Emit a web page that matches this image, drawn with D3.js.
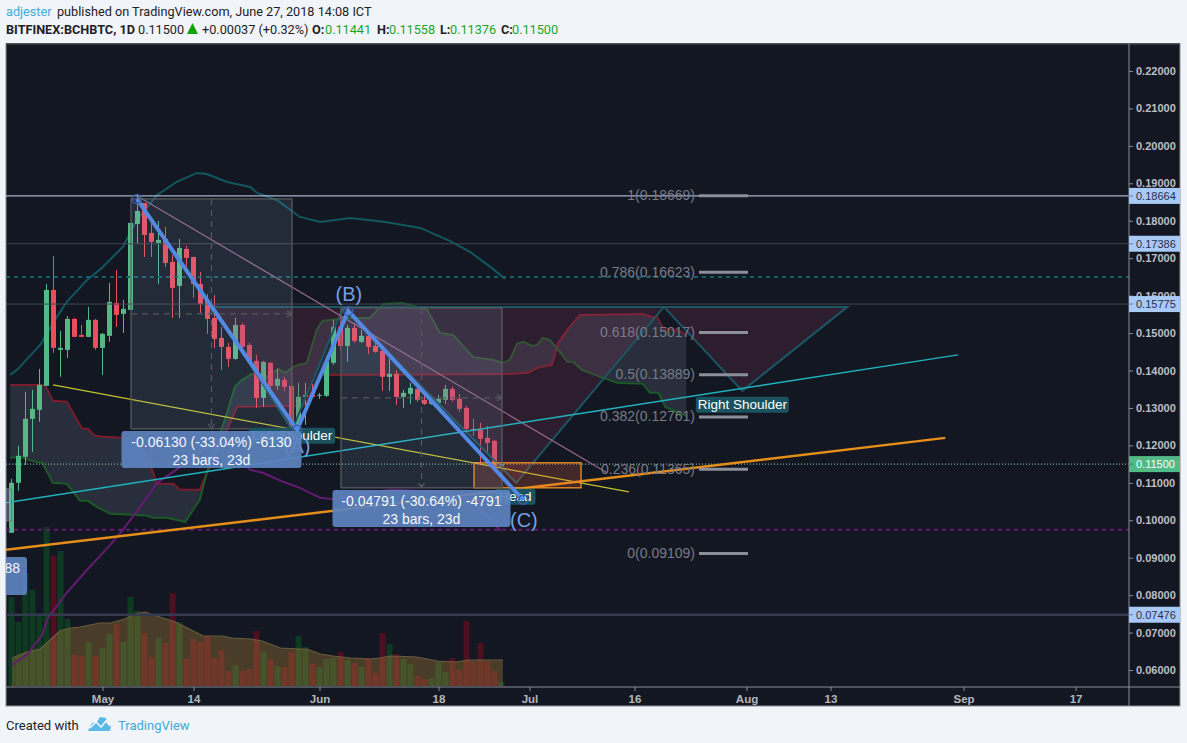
<!DOCTYPE html>
<html><head><meta charset="utf-8">
<script src="https://cdn.jsdelivr.net/npm/d3@7/dist/d3.min.js"></script>
<style>html,body{margin:0;padding:0;background:#f1f4f8;overflow:hidden}svg{display:block}</style>
</head><body><svg id="c" width="1187" height="743"></svg>
<script>
// days are counted from May 1 2018
const firstDay=-13;
const opens=[.09665,.11,.11694,.12709,.12949,.1359,.16153,.14551,.14551,.15379,.14951,.14898,.15352,.14604,.14925,.15806,.15512,.15619,.17915,.18476,.17675,.17408,.17515,.16901,.1626,.17248,.17034,.16313,.15886,.15405,.14871,.14631,.14311,.15218,.14684,.14257,.13269,.14204,.1359,.1375,.1359,.12415,.13296,.13349,.13323,.13323,.14204,.15165,.14658,.15138,.14765,.14925,.14658,.14524,.1383,.1391,.13296,.13376,.1351,.13216,.13109,.13136,.13216,.1351,.13243,.13002,.12442,.12415,.12201,.12121,.11441];
const highs=[.11107,.11988,.1343,.13483,.14044,.16313,.17061,.15058,.15459,.15405,.15218,.15699,.15379,.15005,.1634,.16687,.15886,.17942,.18716,.18476,.18022,.17995,.17835,.17087,.17515,.17328,.17034,.16634,.16046,.16019,.15165,.14738,.15405,.15272,.14738,.14417,.14257,.14231,.14044,.1383,.1359,.1367,.1367,.13643,.13403,.14391,.15352,.15592,.15218,.15272,.15085,.15005,.14738,.14551,.14311,.14017,.13483,.1367,.1359,.13403,.13349,.13349,.13616,.13563,.13376,.13056,.12709,.12602,.12522,.12148,.11558];
const lows=[.09665,.10786,.1148,.11828,.12629,.1359,.14471,.1383,.14337,.14898,.14898,.14898,.14551,.13883,.14765,.15165,.15005,.15619,.17381,.17034,.17034,.16313,.16767,.15405,.15405,.16767,.15939,.15539,.14978,.14604,.14017,.14097,.14284,.14417,.1415,.13002,.13029,.13483,.13483,.13456,.12415,.12362,.12548,.13269,.13243,.13296,.1415,.14551,.14231,.14738,.14738,.14444,.14471,.13456,.13456,.13082,.13002,.13109,.13163,.13082,.13082,.13082,.13109,.13163,.12896,.12335,.12255,.1148,.11828,.11441,.11376];
const closes=[.11,.11721,.12709,.12976,.13616,.16153,.14604,.14604,.15379,.14898,.14898,.15352,.14604,.14978,.15833,.15485,.15646,.17942,.18262,.17621,.17435,.17488,.16874,.16206,.17274,.17007,.16313,.15779,.15379,.14845,.14631,.14311,.15218,.14631,.14231,.13269,.14231,.1359,.13777,.13563,.12468,.13296,.13349,.13296,.13349,.14231,.15165,.14658,.15138,.14791,.14925,.14631,.14498,.1383,.1391,.13296,.13403,.13536,.13216,.13109,.13216,.13243,.1351,.13216,.12976,.12442,.12388,.12175,.12068,.11441,.115];
const volumes=[8870,6400,11300,9600,7100,15900,13000,13500,6700,3100,3000,4400,3000,3800,5200,6200,4400,8900,7500,5300,2900,4800,4300,9300,6400,2700,4700,4400,5000,2800,3600,1500,2100,1500,1700,5500,3400,2700,2000,1900,3400,5000,3900,2200,1900,2700,2800,3400,2600,2300,1900,2800,1300,5300,4200,3200,2700,2200,1000,700,800,2400,1400,2800,1600,6500,2400,4300,2400,1500,400];
const volumeMA=[[-12.9,2800],[-10.8,3400],[-8.9,3700],[-7.5,4600],[-6.1,5500],[-4.6,5800],[-3.2,5900],[-1.8,6100],[-.4,6300],[1.1,6300],[3.2,6700],[4.6,7200],[6.1,7400],[8.2,6900],[10.4,6400],[12.1,5800],[14.4,5000],[17.1,5000],[18.5,4800],[21.1,4700],[22.8,4500],[25.4,3800],[28.2,3700],[29.2,3700],[31.1,3200],[32.9,3000],[35.4,2800],[38.2,2700],[39.6,2800],[41.1,3000],[44.9,2900],[47.8,2500],[50.6,2400],[52.1,2600],[57.2,2600]];
const upperBand=[[-13.2,.13883],[-12.2,.14017],[-8.9,.14684],[-6.8,.15352],[-5.1,.15833],[-2.2,.1642],[-.1,.1674],[2.9,.17301],[4.9,.18022],[7.8,.18689],[10.6,.19037],[13.5,.19277],[14.9,.1925],[17.8,.19037],[21.1,.18903],[22.1,.18743],[24.9,.18556],[28.2,.18102],[31.1,.17969],[35.4,.18075],[40.4,.17969],[45.4,.17808],[49.6,.17461],[52.5,.17168],[55.4,.16767],[57.5,.16447]];
const lowerBand=[[-12.9,.0614],[-10.8,.06407],[-8.6,.06941],[-7.8,.07395],[-5.1,.08063],[-2.2,.08677],[1.1,.09344],[2.9,.09745],[5.4,.10359],[7.8,.11],[10.1,.11294],[12.5,.11614],[15.8,.12095],[17.9,.12014],[21.1,.11347],[22.9,.11267],[25.8,.11027],[28.2,.10866],[31.1,.10599],[33.5,.10546],[35.8,.10706],[41.5,.10813],[48.2,.1076],[52.5,.10546],[55.4,.10012],[56.9,.09718]];
const spanB=[[-13.2,.13616],[-8.2,.13616],[-7.1,.13189],[-5.1,.13163],[-2.9,.12442],[-2.1,.12442],[-1.1,.12255],[.1,.12228],[2.8,.12201],[4.2,.12201],[6.4,.11694],[7.8,.10973],[10.1,.10973],[11.1,.10813],[13.9,.10813],[14.9,.11267],[17.8,.12415],[19.2,.13029],[26.8,.13056],[28.6,.13029],[31.1,.13883],[58.6,.1391],[60.8,.13937],[62.1,.14071],[64.2,.1415],[65.1,.14738],[66.4,.15085],[68.2,.15485],[77.2,.15512],[78.5,.15432],[79.2,.15432],[80.1,.15138],[81.5,.15085],[82.5,.15058],[83.4,.14951]];
const spanA=[[-13.2,.11667],[-11.8,.11694],[-9.6,.11561],[-8.6,.11534],[-7.1,.11],[-5.1,.10973],[-3.2,.10519],[-2.1,.10519],[-.8,.10359],[1.1,.10172],[4.4,.10146],[6.4,.10119],[7.2,.10065],[9.2,.10065],[11.8,.09958],[13.9,.10546],[14.9,.11267],[17.8,.12869],[18.9,.13563],[19.9,.1375],[21.4,.1391],[23.2,.13803],[25.1,.14044],[26.1,.13937],[27.5,.14124],[29.2,.14204],[30.6,.15085],[31.4,.15325],[34.9,.15405],[38.2,.15405],[40.1,.15779],[42.9,.15806],[46.4,.15619],[48.2,.15005],[50.1,.14951],[52.9,.14364],[55.8,.14284],[57.2,.14204],[58.2,.14284],[59.2,.14711],[60.1,.14765],[61.4,.14658],[62.1,.14684],[62.9,.14871],[63.9,.14818],[65.1,.14551],[66.4,.14231],[67.2,.14231],[68.5,.14017],[71.1,.1383],[73.5,.1367],[77.2,.13643],[78.2,.13403],[79.4,.13403],[80.4,.13029],[83.4,.12789]];
const yTicks=[.06,.07,.08,.09,.10,.11,.12,.13,.14,.15,.16,.17,.18,.19,.20,.21,.22];
const xTicks=[0,13,31,48,61,76,92,104,123,139];
const xTickLabels=["May","14","Jun","18","Jul","16","Aug","13","Sep","17"];
const priceLabels=[.18664,.17386,.15775,.11500,.07476];
const fibPrices=[.18669,.16623,.15017,.13889,.12761,.11365,.09109];
const fibTexts=["1(0.18669)","0.786(0.16623)","0.618(0.15017)","0.5(0.13889)","0.382(0.12761)","0.236(0.11365)","0(0.09109)"];
const hsPoints=[[15.8,.15699],[27.1,.12415],[34.4,.15699],[59.1,.11],[80.2,.15699],[91.4,.13456],[106.4,.15699]];
const abc=[[4.9,.18583],[27.8,.12415],[35.1,.15592],[60.1,.10546]];
const measure1=[4.07,27.07,.18583,.12442], measure2=[34.07,57.07,.15672,.10866];
const m1Texts=["-0.06130 (-33.04%) -6130","23 bars, 23d"], m2Texts=["-0.04791 (-30.64%) -4791","23 bars, 23d"];
const yellowLine=[[-7.07,.13616],[75.2,.1076]], cyanLine=[[-13.79,.10466],[122.2,.14417]];
const orangeLine=[[-13.79,.09211],[120.4,.12201]], pinkLine=[[5.2,.18636],[72.07,.11267]];
const orangeBox=[53.07,68.36,.11534,.10866];

const FONT='"Liberation Sans",Arial,sans-serif', UI='Roboto,sans-serif';
const L=6,R=1129,RR=1180,T=44,B=687,BB=706;
const x=d3.scaleLinear().domain([-13.786,146.64]).range([L,R]);
const y=d3.scaleLinear().domain([.22,.06]).range([71,670]);
const yv=d3.scaleLinear().domain([0,20000]).range([686,486]);
const svg=d3.select("#c");
svg.append("defs").append("clipPath").attr("id","pane").append("rect").attr("x",L).attr("y",T).attr("width",R-L).attr("height",B-T);
svg.append("rect").attr("x",L).attr("y",T).attr("width",RR-L).attr("height",BB-T).attr("fill","#131722").attr("stroke","#8a8e98");
svg.append("line").attr("x1",L).attr("x2",RR).attr("y1",T).attr("y2",T).attr("stroke","#2a2e39").attr("stroke-width",1.5);
const g=svg.append("g").attr("clip-path","url(#pane)");
const days=opens.map((_,i)=>firstDay+i);
const GREEN="#53b987",RED="#eb4d5c";
const lineP=d3.line().x(d=>x(d[0])).y(d=>y(d[1]));
// volume
g.selectAll(".v").data(volumes).join("rect").attr("x",(d,i)=>x(days[i])-3).attr("width",6)
 .attr("y",d=>yv(d)).attr("height",d=>yv(0)-yv(d)).attr("fill",(d,i)=>closes[i]>=opens[i]?"#0e3a22":"#4e0f20");
g.append("path").datum(volumeMA).attr("d",d3.area().x(d=>x(d[0])).y0(yv(0)).y1(d=>yv(d[1]))).attr("fill","rgba(200,150,60,.3)");
g.append("path").datum(volumeMA).attr("d",d3.line().x(d=>x(d[0])).y(d=>yv(d[1]))).attr("fill","none").attr("stroke","#6b5c3f").attr("stroke-width",1.2);
// cloud
const cloud=spanA.concat(spanB.slice().reverse());
g.append("path").attr("d",lineP(cloud)+"Z").attr("fill","rgba(150,160,185,.17)").attr("fill-rule","evenodd");
g.append("path").attr("d",lineP(spanB)).attr("fill","none").attr("stroke","#7a1c2c").attr("stroke-width",2);
g.append("path").attr("d",lineP(spanA)).attr("fill","none").attr("stroke","#1b5a27").attr("stroke-width",2);
g.append("path").attr("d",lineP(upperBand)).attr("fill","none").attr("stroke","#12575f").attr("stroke-width",2);
g.append("path").attr("d",lineP(lowerBand)).attr("fill","none").attr("stroke","#651b72").attr("stroke-width",2);
// candles
const cg=g.selectAll(".k").data(days).join("g");
cg.append("line").attr("x1",d=>x(d)).attr("x2",d=>x(d)).attr("y1",(d,i)=>y(highs[i])).attr("y2",(d,i)=>y(lows[i])).attr("stroke",(d,i)=>closes[i]>=opens[i]?GREEN:RED);
cg.append("rect").attr("x",d=>x(d)-2.5).attr("width",5).attr("y",(d,i)=>y(Math.max(opens[i],closes[i])))
 .attr("height",(d,i)=>Math.max(1,Math.abs(y(opens[i])-y(closes[i])))).attr("fill",(d,i)=>closes[i]>=opens[i]?GREEN:RED);
// horizontal levels
function hline(p,c,w,dash){const l=g.append("line").attr("x1",L).attr("x2",R).attr("y1",y(p)).attr("y2",y(p)).attr("stroke",c).attr("stroke-width",w);if(dash)l.attr("stroke-dasharray",dash);}
hline(.18664,"#c9d6f2",1);hline(.17386,"#434753",1);hline(.15775,"#434753",1);hline(.07476,"#343b4e",2.5);
hline(.16496,"#14606a",2,"4 4");hline(.09744,"#651b72",2,"4 4");hline(.115,"#8fd4b0",1,"1 2");
// H&S
const hsClosed=hsPoints.concat([hsPoints[0]]);
g.append("path").attr("d",lineP(hsClosed)+"Z").attr("fill","rgba(150,60,100,.2)");
g.append("path").attr("d",lineP(hsClosed)).attr("fill","none").attr("stroke","#1c5663").attr("stroke-width",2);
// simple drawn lines
g.append("path").attr("d",lineP(yellowLine)).attr("stroke","#c3c22c").attr("fill","none").attr("stroke-width",1.2);
g.append("path").attr("d",lineP(pinkLine)).attr("stroke","#94688c").attr("fill","none").attr("stroke-width",1.2);
g.append("path").attr("d",lineP(cyanLine)).attr("stroke","#1fb3bd").attr("fill","none").attr("stroke-width",1.4);
g.append("path").attr("d",lineP(orangeLine)).attr("stroke","#e58e1a").attr("fill","none").attr("stroke-width",2.4);
g.append("rect").attr("x",x(orangeBox[0])).attr("y",y(orangeBox[2])).attr("width",x(orangeBox[1])-x(orangeBox[0])).attr("height",y(orangeBox[3])-y(orangeBox[2])).attr("fill","rgba(240,105,70,.22)").attr("stroke","#f5921f").attr("stroke-width",1.3);
// fib
fibPrices.forEach((p,i)=>{
 g.append("line").attr("x1",699).attr("x2",748).attr("y1",y(p)).attr("y2",y(p)).attr("stroke","#8b8f9b").attr("stroke-width",3);
 g.append("text").attr("x",695).attr("y",y(p)+4.5).attr("text-anchor","end").attr("font-family",FONT).attr("font-size",14).attr("fill","#787b86").text(fibTexts[i]);
});
// measure boxes
function measure(m){
 const x0=x(m[0]),x1=x(m[1]),y0=y(m[2]),y1=y(m[3]),cx=(x0+x1)/2,cy=(y0+y1)/2;
 g.append("rect").attr("x",x0).attr("y",y0).attr("width",x1-x0).attr("height",y1-y0).attr("fill","rgba(150,170,210,.13)").attr("stroke","#5a5c61").attr("stroke-width",1.2);
 g.append("line").attr("x1",cx).attr("x2",cx).attr("y1",y0).attr("y2",y1).attr("stroke","#55585f").attr("stroke-dasharray","6 5").attr("stroke-width",1.2);
 g.append("line").attr("x1",x0).attr("x2",x1).attr("y1",cy).attr("y2",cy).attr("stroke","#55585f").attr("stroke-dasharray","6 5").attr("stroke-width",1.2);
 g.append("path").attr("d",`M${cx-3},${y1-5}L${cx},${y1}L${cx+3},${y1-5}M${x1-5},${cy-3}L${x1},${cy}L${x1-5},${cy+3}`).attr("fill","none").attr("stroke","#55585f").attr("stroke-width",1.2);
}
measure(measure1);measure(measure2);
// third, mostly off-screen measure
g.append("rect").attr("x",x(-15)).attr("y",y(.10839)).attr("width",x(-13)-x(-15)).attr("height",y(.09985)-y(.10839)).attr("fill","rgba(150,170,210,.4)").attr("stroke","#777");
// labels with pattern names
function tag(t,dx,cy,w){const cxp=x(dx),cyp=y(cy);
 g.append("rect").attr("x",cxp-w/2).attr("y",cyp-8).attr("width",w).attr("height",16).attr("rx",3).attr("fill","#1a5260");
 g.append("text").attr("x",cxp).attr("y",cyp+4.5).attr("text-anchor","middle").attr("font-family",FONT).attr("font-size",13.5).attr("fill","#fff").text(t);}
tag("Left Shoulder",27.1,.12255,86);tag("Head",59,.10626,40);tag("Right Shoulder",91.4,.13083,93);
// abc path
g.append("path").attr("d",lineP(abc)).attr("fill","none").attr("stroke","#5489e3").attr("stroke-width",4);
abc.forEach(p=>g.append("circle").attr("cx",x(p[0])).attr("cy",y(p[1])).attr("r",4.5).attr("fill","none").attr("stroke","#3a5fa5").attr("stroke-width",1.5));
[["(A)",27.8,.11975],["(B)",35.2,.1604],["(C)",60.2,.1],].forEach(a=>{
 g.append("text").attr("x",x(a[1])).attr("y",y(a[2])+7).attr("text-anchor","middle").attr("font-family",FONT).attr("font-size",20).attr("fill","#739fe4").text(a[0]);});
// tooltips
function tip(cx,y0,w,texts){const X=x(cx);
 g.append("rect").attr("x",X-w/2).attr("y",y0).attr("width",w).attr("height",37).attr("rx",3).attr("fill","rgba(92,130,190,.93)");
 texts.forEach((t,i)=>g.append("text").attr("x",X).attr("y",y0+16+i*18).attr("text-anchor","middle").attr("font-family",FONT).attr("font-size",14).attr("fill","#f4f7fc").text(t));}
tip((measure1[0]+measure1[1])/2,431,180,m1Texts);
tip((measure2[0]+measure2[1])/2,490,178,m2Texts);
g.append("rect").attr("x",-20).attr("y",557).attr("width",47).attr("height",38).attr("rx",3).attr("fill","rgba(92,130,190,.93)");
g.append("text").attr("x",20).attr("y",573).attr("text-anchor","end").attr("font-family",FONT).attr("font-size",14).attr("fill","#f4f7fc").text("88");
// axes
const ax=svg.append("g").attr("transform",`translate(0,${B})`).call(d3.axisBottom(x).tickValues(xTicks).tickSize(4).tickFormat((d,i)=>xTickLabels[i]));
ax.select(".domain").attr("stroke","#8a8e98").attr("d",`M${L},0H${RR}`);
ax.selectAll("line").attr("stroke","#8a8e98");
ax.selectAll("text").attr("dy",0).attr("y",16).attr("font-family",FONT).attr("font-size",11.5).attr("font-weight","bold").attr("fill","#b5b7bd");
const ay=svg.append("g").attr("transform",`translate(${R},0)`).call(d3.axisRight(y).tickValues(yTicks).tickSize(4).tickFormat(d3.format(".5f")));
ay.select(".domain").attr("stroke","#8a8e98").attr("d",`M0,${T}V${BB}`);
ay.selectAll("line").attr("stroke","#8a8e98");
ay.selectAll("text").attr("x",7).attr("font-family",FONT).attr("font-size",11).attr("font-weight","bold").attr("fill","#bdbfc4");
priceLabels.forEach(p=>{const last=p===.115;
 svg.append("rect").attr("x",R).attr("y",y(p)-8).attr("width",RR-R).attr("height",16).attr("fill",last?"#53b987":"#a9c9f7");
 svg.append("line").attr("x1",R).attr("x2",R+4).attr("y1",y(p)).attr("y2",y(p)).attr("stroke",last?"#2e7a58":"#5e7fb0");
 svg.append("text").attr("x",R+7).attr("y",y(p)+4).attr("font-family",FONT).attr("font-size",11).attr("fill",last?"#f4fff9":"#26304a").text(d3.format(".5f")(p));
});
// header
const BL="#3fa9dc",TXT="#1e2026",VAL="#17a62a";
function t(xp,yp,s,c,b,size,fam){svg.append("text").attr("x",xp).attr("y",yp).attr("font-family",fam||UI).attr("font-size",size||12.7).attr("font-weight",b?"bold":"normal").attr("fill",c).text(s);}
t(6,15.5,"adjester",BL);t(57,15.5,"published on TradingView.com, June 27, 2018 14:08 ICT",TXT);
t(6,34,"BITFINEX:BCHBTC, 1D",TXT,true);t(138,34,"0.11500",TXT);
svg.append("path").attr("d",d3.line()([[187,34],[198,34],[192.5,23]])+"Z").attr("fill","#0da30d");
t(202,34,"+0.00037 (+0.32%)",TXT);
[[312,"O:",325,"0.11441"],[377,"H:",389,"0.11558"],[440,"L:",450,"0.11376"],[501,"C:",512,"0.11500"]].forEach(a=>{t(a[0],34,a[1],TXT,true);t(a[2],34,a[3],VAL);});
// footer
t(6,730,"Created with",TXT,false,13);
svg.append("path").attr("d","M88,731L92,723L97,722L100,717L106,718L107,723L111,726L110,731Z").attr("fill","#58b8e6");
svg.append("path").attr("d","M90,728L96,722L101,727L106,721L110,726").attr("fill","none").attr("stroke","#f1f4f8").attr("stroke-width",1.6);
t(118,730,"TradingView",BL,false,13);
</script></body></html>
